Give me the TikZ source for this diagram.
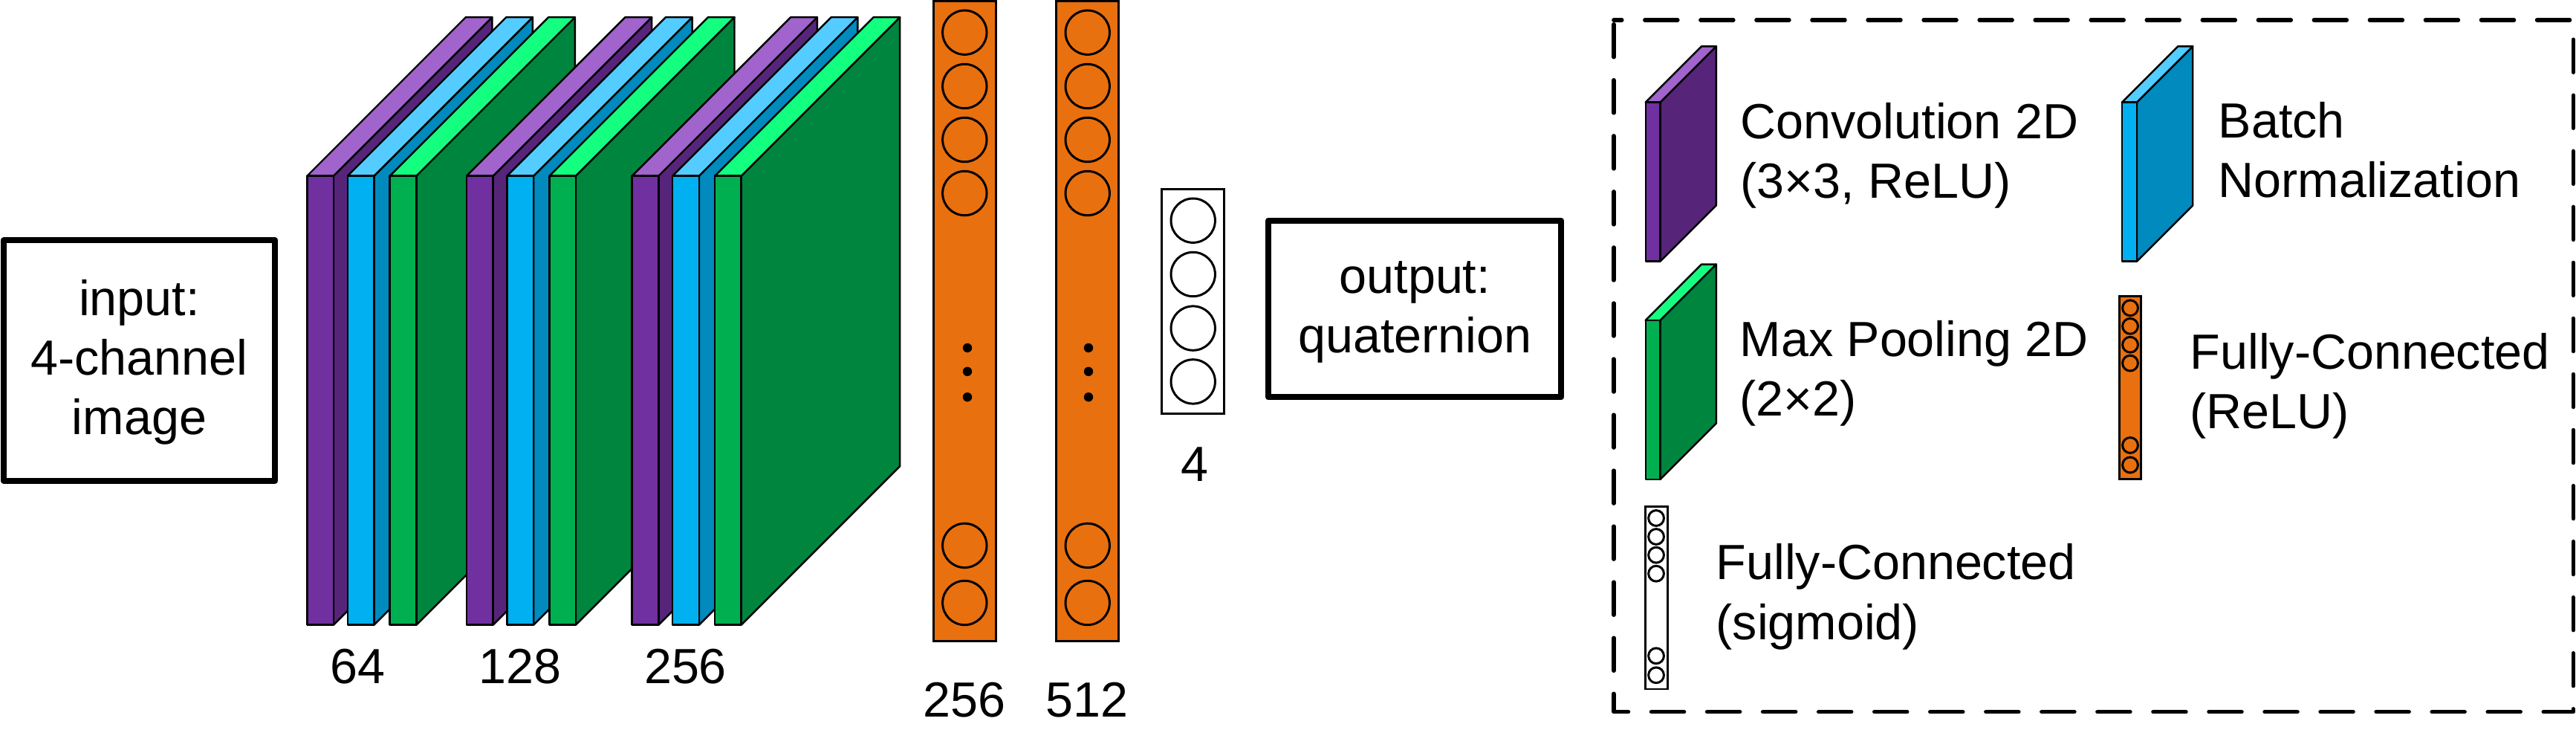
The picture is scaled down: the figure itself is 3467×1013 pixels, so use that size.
\documentclass[tikz,border=0pt]{standalone}
\usepackage{fontspec}
\setmainfont{Liberation Sans}
\definecolor{convfront}{HTML}{7030A0}
\definecolor{convside}{HTML}{562579}
\definecolor{convtop}{HTML}{A064CC}
\definecolor{normfront}{HTML}{00B0F0}
\definecolor{normside}{HTML}{008ABD}
\definecolor{normtop}{HTML}{55CCFF}
\definecolor{poolfront}{HTML}{00B050}
\definecolor{poolside}{HTML}{00853F}
\definecolor{pooltop}{HTML}{14FF80}
\definecolor{barorange}{HTML}{E9700F}
\tikzset{
 slabline/.style={black,line width=.7pt,line join=round},
 barline/.style={black,line width=.85pt},
 txt/.style={inner sep=0,font=\fontsize{18.9}{22.76}\selectfont},
 legendtxt/.style={txt,anchor=base west,align=left},
 numtxt/.style={txt,anchor=base},
 iobox/.style={txt,draw=black,line width=2.3pt,line join=round,align=center},
}
% one layer: x, y of front top left, width, depth, height, colour
\newcommand{\slab}[6]{
 \filldraw[slabline,fill=#6side] (#1+#3,#2) --++(#4,-#4) --++(0,#5) --++(-#4,#4) -- cycle;
 \filldraw[slabline,fill=#6top] (#1,#2) --++(#4,-#4) --++(#3,0) --++(-#4,#4) -- cycle;
 \filldraw[slabline,fill=#6front] (#1,#2) rectangle ++(#3,#5);
}
\begin{document}
\begin{tikzpicture} [x=.01cm,y=-.01cm]
\useasboundingbox (0,0) rectangle (3467,1013);
\node[iobox,minimum width=3.65cm,minimum height=3.234cm] (input) at (187.5,485) {\rule{0pt}{.53cm}input:\\4-channel\\image};
\node[iobox,minimum width=3.94cm,minimum height=2.376cm] (output) at (1904.3,415.5) {\rule{0pt}{.525cm}output:\\quaternion};
\foreach \x in {413.3, 628, 850.7} {
 \slab{\x}{236.7}{35.6}{213.5}{604}{conv}
 \slab{\x+54.5}{236.7}{35.6}{213.5}{604}{norm}
 \slab{\x+111.4}{236.7}{35.6}{213.5}{604}{pool}
}
\node[numtxt] (n64) at (481.6,919.3) {64};
\node[numtxt] (n128) at (700,919.3) {128};
\node[numtxt] (n256) at (922.5,919.3) {256};
\foreach \x/\d in {1298.3/1302, 1463.7/1465} {
 \filldraw[barline,fill=barorange] (\x-41.8,2) rectangle (\x+41.8,862.9);
 \foreach \y in {43.7, 116, 188, 260, 733.9, 811}
  \draw[barline] (\x,\y) circle (29.7);
 \foreach \y in {468, 499.8, 534.2}
  \fill[black] (\d,\y) circle (6.2);
}
\node[numtxt] (fc256) at (1298,964.6) {256};
\node[numtxt] (fc512) at (1463.3,964.6) {512};
\draw[barline,fill=white] (1563.7,254.3) rectangle (1647.3,556.2);
\foreach \y in {296.7, 369, 441.6, 513.4}
 \draw[barline] (1605.7,\y) circle (29.7);
\node[numtxt] (fc4) at (1607.7,647) {4};
% legend
\draw[black,line width=1.56pt,line cap=round,line join=round,dash pattern=on .44cm off .31cm,dash phase=.6925cm] (2171.9,27) -- (2171.9,957.7) -- (3463.3,957.7) -- (3463.3,27) -- cycle;
\slab{2214.7}{137.7}{19.7}{75.4}{214}{conv}
\slab{2855.8}{137.7}{20}{75.4}{214}{norm}
\slab{2214.7}{431}{19.7}{75.4}{214}{pool}
\filldraw[barline,fill=barorange] (2852,398.5) rectangle (2881.8,644.2);
\foreach \y in {414.3, 438.8, 463.7, 488.6, 599, 625.5}
 \draw[barline] (2867,\y) circle (10.4);
\draw[barline] (2214.3,681.7) rectangle (2244.2,927);
\foreach \y in {697, 722, 746.7, 771.7, 882.3, 908.3}
 \draw[barline] (2229,\y) circle (10.4);
\node[legendtxt] (convtxt) at (2342,266.7) {Convolution 2D\\(3×3, ReLU)};
\node[legendtxt] (normtxt) at (2985,265.8) {Batch\\Normalization};
\node[legendtxt] (pooltxt) at (2341,559.3) {Max Pooling 2D\\(2×2)};
\node[legendtxt] (fctxt) at (2947,577) {Fully-Connected\\(ReLU)};
\node[legendtxt] (sigtxt) at (2309,860) {Fully-Connected\\(sigmoid)};
\end{tikzpicture}
\end{document}
